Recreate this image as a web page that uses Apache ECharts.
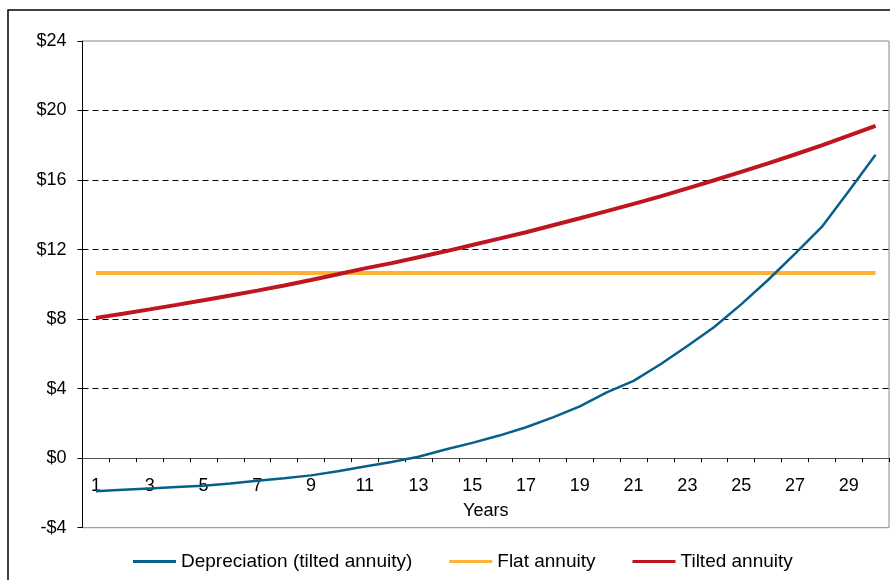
<!DOCTYPE html>
<html>
<head>
<meta charset="utf-8">
<script src="https://cdn.jsdelivr.net/npm/echarts@6/dist/echarts.min.js"></script>
<style>
  html, body { margin: 0; padding: 0; background: #fff; }
  #chart { width: 890px; height: 580px; }
</style>
</head>
<body>
<div id="chart"></div>
<script>
// years 1..30
const years = [];
for (let i = 1; i <= 30; i++) years.push(String(i));

const depreciation = [
  -1.90, -1.82, -1.74, -1.66, -1.58, -1.46, -1.30, -1.15, -0.99, -0.75,
  -0.48, -0.22, 0.08, 0.50, 0.88, 1.30, 1.78, 2.35, 2.98, 3.78,
  4.45, 5.40, 6.45, 7.55, 8.85, 10.25, 11.75, 13.30, 15.35, 17.45
];
const flatAnnuity = [
  10.66, 10.66, 10.66, 10.66, 10.66, 10.66, 10.66, 10.66, 10.66, 10.66,
  10.66, 10.66, 10.66, 10.66, 10.66, 10.66, 10.66, 10.66, 10.66, 10.66,
  10.66, 10.66, 10.66, 10.66, 10.66, 10.66, 10.66, 10.66, 10.66, 10.66
];
const tiltedAnnuity = [
  8.07, 8.31, 8.56, 8.82, 9.09, 9.36, 9.64, 9.93, 10.25, 10.58,
  10.92, 11.22, 11.56, 11.90, 12.26, 12.63, 13.00, 13.40, 13.80, 14.21,
  14.63, 15.06, 15.52, 15.99, 16.47, 16.96, 17.47, 18.00, 18.55, 19.12
];

const font = 'Liberation Sans, Arial, sans-serif';
const gridTop = 41, gridBottom = 52.3;
const yMin = -4, yMax = 24;
// x axis sits at y = 0, not at the bottom of the grid
const plotH = 580 - gridTop - gridBottom;
const zeroOffset = plotH * (0 - yMin) / (yMax - yMin);

const chart = echarts.init(document.getElementById('chart'));

chart.setOption({
  animation: false,
  backgroundColor: '#fff',
  textStyle: { fontFamily: font },
  graphic: [{
    type: 'rect',
    shape: { x: 8, y: 10, width: 900, height: 600 },
    style: { fill: 'none', stroke: '#000', lineWidth: 1.5 },
    z: -10
  }],
  grid: {
    left: 82.5, top: gridTop, right: 1, bottom: gridBottom,
    outerBoundsMode: 'none',
    show: true, borderColor: '#888', borderWidth: 1
  },
  legend: {
    left: 128, top: 547,
    itemWidth: 43, itemHeight: 3, itemGap: 37,
    icon: 'rect',
    textStyle: { fontSize: 19, color: '#000', fontFamily: font },
    data: ['Depreciation (tilted annuity)', 'Flat annuity', 'Tilted annuity']
  },
  xAxis: {
    type: 'category',
    data: years,
    boundaryGap: true,
    offset: -zeroOffset,
    name: 'Years',
    nameLocation: 'middle',
    nameGap: 44,
    nameTextStyle: { fontSize: 18, color: '#000', fontFamily: font },
    axisLine: { onZero: false, lineStyle: { color: '#555', width: 1 } },
    axisTick: { show: true, interval: 0, length: 4, lineStyle: { color: '#000' } },
    axisLabel: { interval: 1, margin: 19, fontSize: 18, color: '#000', fontFamily: font },
    splitLine: { show: false }
  },
  yAxis: {
    type: 'value',
    min: yMin, max: yMax, interval: 4,
    axisLine: { show: true, onZero: false, lineStyle: { color: '#000', width: 1 } },
    axisTick: { show: true, length: 5, lineStyle: { color: '#000' } },
    axisLabel: {
      margin: 16, fontSize: 18, color: '#000', fontFamily: font,
      formatter: v => (v < 0 ? '-$' + Math.abs(v) : '$' + v)
    },
    splitLine: {
      show: true,
      lineStyle: {
        color: ['transparent', 'transparent', '#000', '#000', '#000', '#000', '#000', 'transparent'],
        type: [6, 4], width: 1
      }
    }
  },
  series: [
    {
      name: 'Depreciation (tilted annuity)',
      type: 'line',
      data: depreciation,
      symbol: 'none',
      color: '#07608c',
      lineStyle: { width: 2.5, color: '#07608c' },
      z: 3
    },
    {
      name: 'Flat annuity',
      type: 'line',
      data: flatAnnuity,
      symbol: 'none',
      color: '#fdb136',
      lineStyle: { width: 4, color: '#fdb136' },
      z: 2
    },
    {
      name: 'Tilted annuity',
      type: 'line',
      data: tiltedAnnuity,
      symbol: 'none',
      color: '#bf1520',
      lineStyle: { width: 4, color: '#bf1520' },
      z: 4
    }
  ]
});
</script>
</body>
</html>
